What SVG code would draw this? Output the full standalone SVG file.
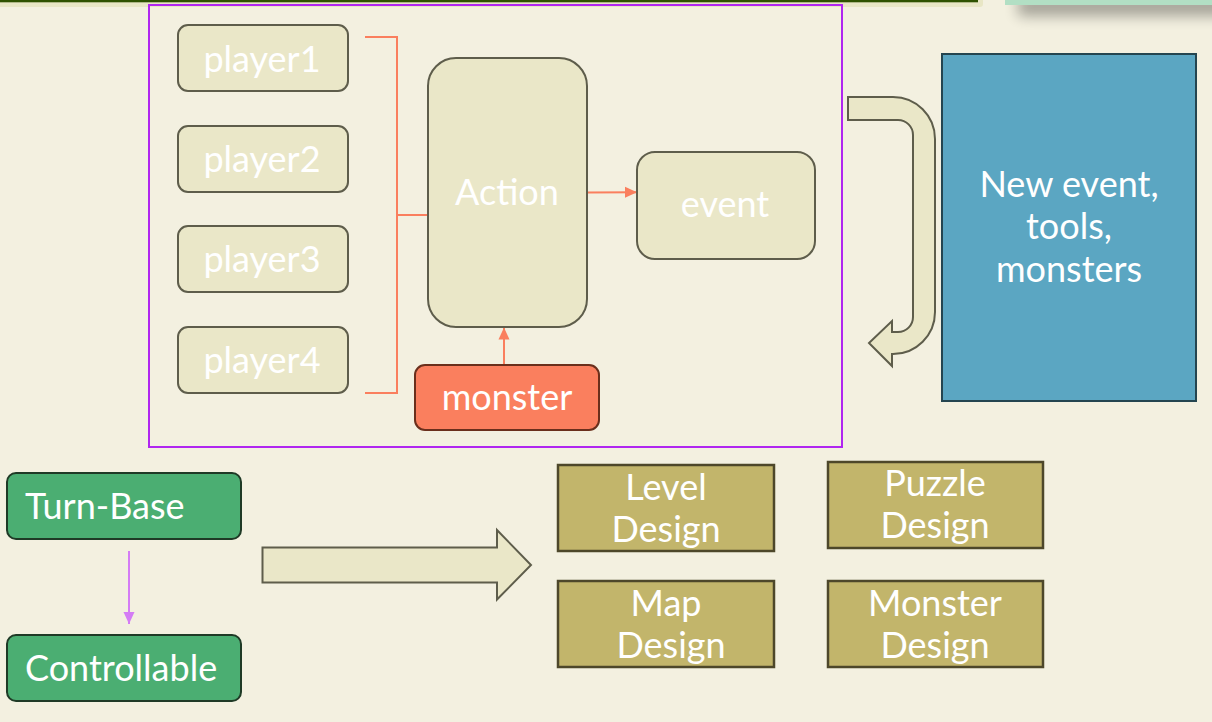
<svg xmlns="http://www.w3.org/2000/svg" width="1212" height="722" viewBox="0 0 1212 722">
<defs>
<style>
.lbl{font-family:Lato,"Open Sans","Liberation Sans",sans-serif;font-size:36px;fill:#ffffff;text-anchor:middle}
.lft{text-anchor:start}
.pl{fill:#EAE7C8;stroke:#5E5D4B;stroke-width:2}
.des{fill:#C2B56B;stroke:#4D472A;stroke-width:2.5}
.grn{fill:#4BAE72;stroke:#1F3A26;stroke-width:2}
.or{fill:none;stroke:#FA7F5E;stroke-width:2}
</style>
<marker id="ah" markerUnits="userSpaceOnUse" markerWidth="12" markerHeight="12" viewBox="0 0 12 12" refX="12" refY="6" orient="auto">
<path d="M0,0.5 L12,6 L0,11.5 Z" fill="#FA7F5E"/>
</marker>
<marker id="ahp" markerUnits="userSpaceOnUse" markerWidth="12" markerHeight="12" viewBox="0 0 12 12" refX="12" refY="6" orient="auto">
<path d="M0,0.5 L12,6 L0,11.5 Z" fill="#D47CF5"/>
</marker>
<filter id="sh" x="-20%" y="-100%" width="140%" height="400%">
<feGaussianBlur stdDeviation="7"/>
</filter>
</defs>
<rect x="0" y="0" width="1212" height="722" fill="#F3F0E0"/>
<rect x="-10" y="-10" width="993" height="17" rx="3" fill="#E8E6C5"/>
<rect x="0" y="0" width="978" height="2.3" fill="#2E5200"/>
<rect x="1018" y="-4" width="210" height="20" fill="#000" opacity="0.32" filter="url(#sh)"/>
<rect x="1005" y="0" width="207" height="5" fill="#B2DFC4"/>

<g id="frame">
<rect x="149" y="5" width="693" height="442" fill="none" stroke="#B026F0" stroke-width="2"/>
</g>

<g id="connectors">
<path class="or" d="M365,37 H397 V393 H365 M397,215 H428"/>
<line class="or" x1="588" y1="192.5" x2="637" y2="192.3" marker-end="url(#ah)"/>
<line class="or" x1="504" y1="365" x2="504" y2="327.5" marker-end="url(#ah)"/>
<line x1="129" y1="551" x2="129" y2="624" stroke="#D47CF5" stroke-width="2" marker-end="url(#ahp)"/>
<path d="M848,97 H893 A42,42 0 0 1 935,139 V312 A42,42 0 0 1 893,354 H892 V366 L869,343 L892,321 V332 H898 A15,15 0 0 0 913,317 V135 A15,15 0 0 0 898,120 H848 Z" fill="#EAE7C8" stroke="#5E5D4B" stroke-width="2"/>
<path d="M262.5,547.5 H497 V530 L531,565 L497,599.5 V582.5 H262.5 Z" fill="#EAE7C8" stroke="#5E5D4B" stroke-width="2"/>
</g>

<g id="player1"><rect class="pl" x="178" y="25" width="170" height="66" rx="10"/><text class="lbl" x="262" y="72">player1</text></g>
<g id="player2"><rect class="pl" x="178" y="126" width="170" height="66" rx="10"/><text class="lbl" x="262" y="172">player2</text></g>
<g id="player3"><rect class="pl" x="178" y="226" width="170" height="66" rx="10"/><text class="lbl" x="262" y="272">player3</text></g>
<g id="player4"><rect class="pl" x="178" y="327" width="170" height="66" rx="10"/><text class="lbl" x="262" y="373">player4</text></g>
<g id="action"><rect class="pl" x="428" y="58" width="159" height="269" rx="28"/><text class="lbl" x="507" y="205">Action</text></g>
<g id="event"><rect class="pl" x="637" y="152" width="178" height="107" rx="18"/><text class="lbl" x="725" y="217">event</text></g>
<g id="monster"><rect x="415" y="365" width="184" height="65" rx="10" fill="#FA7F5E" stroke="#6A2F1C" stroke-width="2"/><text class="lbl" x="507" y="410">monster</text></g>
<g id="newevent"><rect x="942" y="54" width="254" height="347" fill="#5BA6C2" stroke="#244550" stroke-width="2"/>
<text class="lbl" x="1069" y="197">New event,</text><text class="lbl" x="1069" y="239">tools,</text><text class="lbl" x="1069" y="282">monsters</text></g>
<g id="turnbase"><rect class="grn" x="7" y="473" width="234" height="66" rx="9"/><text class="lbl lft" x="25" y="519">Turn-Base</text></g>
<g id="controllable"><rect class="grn" x="7" y="635" width="234" height="66" rx="9"/><text class="lbl lft" x="25" y="681">Controllable</text></g>
<g id="level"><rect class="des" x="558" y="465" width="216" height="86"/><text class="lbl" x="666" y="500">Level</text><text class="lbl" x="666" y="542">Design</text></g>
<g id="puzzle"><rect class="des" x="828" y="462" width="215" height="86"/><text class="lbl" x="935" y="496">Puzzle</text><text class="lbl" x="935" y="538">Design</text></g>
<g id="map"><rect class="des" x="558" y="581" width="216" height="86"/><text class="lbl" x="666" y="616">Map</text><text class="lbl" x="671" y="658">Design</text></g>
<g id="monsterdesign"><rect class="des" x="828" y="581" width="215" height="86"/><text class="lbl" x="935" y="616">Monster</text><text class="lbl" x="935" y="658">Design</text></g>
</svg>
